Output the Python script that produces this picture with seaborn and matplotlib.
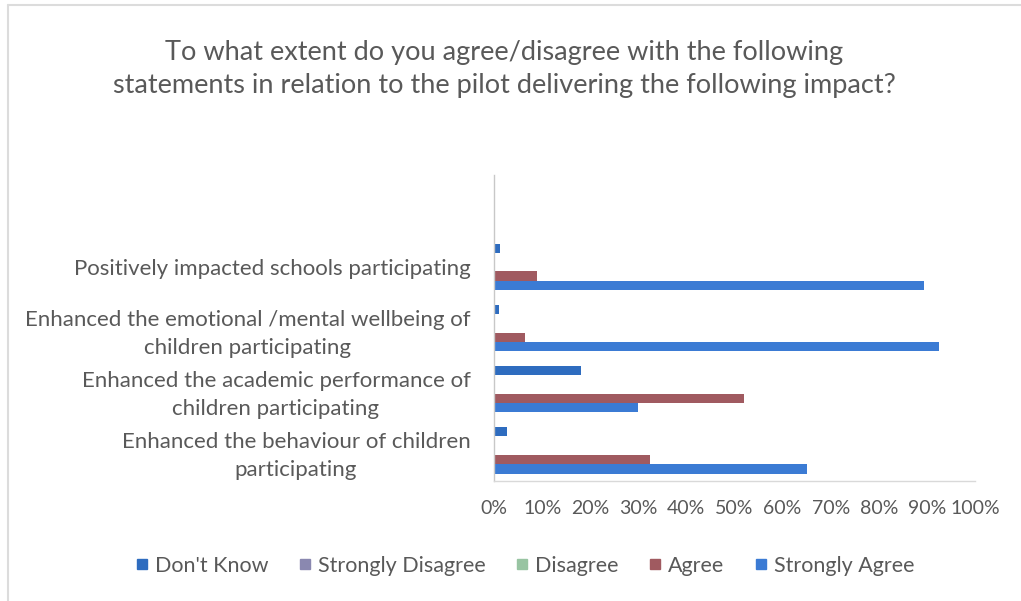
import matplotlib
matplotlib.use("Agg")
import matplotlib.pyplot as plt
from matplotlib.lines import Line2D
import seaborn as sns
import pandas as pd

# Survey statements (top to bottom) and response categories
statements = [
    "Positively impacted schools participating",
    "Enhanced the emotional /mental wellbeing of\nchildren participating",
    "Enhanced the academic performance of\nchildren participating",
    "Enhanced the behaviour of children\nparticipating",
]
responses = ["Don't Know", "Strongly Disagree", "Disagree", "Agree", "Strongly Agree"]

# Share of respondents (%) per statement
dont_know = [1.2, 1.0, 18.0, 2.6]
strongly_disagree = [0, 0, 0, 0]
disagree = [0, 0, 0, 0]
agree = [9.0, 6.5, 52.0, 32.5]
strongly_agree = [89.5, 92.5, 30.0, 65.0]

x_ticks = list(range(0, 101, 10))
x_tick_labels = [f"{t}%" for t in x_ticks]

colors = ["#2e6cbf", "#8a88b0", "#98c4a2", "#a05a60", "#3b7bd4"]

df = pd.DataFrame({
    "statement": statements * 5,
    "response": [r for r in responses for _ in statements],
    "value": dont_know + strongly_disagree + disagree + agree + strongly_agree,
})

sns.set_theme(style="white")
plt.rcParams["font.family"] = ["Lato", "DejaVu Sans"]
text_color = "#595959"

fig = plt.figure(figsize=(10.21, 6.01), dpi=100)
fig.patch.set_facecolor("white")
ax = fig.add_axes([494 / 1021, 1 - 481 / 601, (975 - 494) / 1021, (481 - 175) / 601])

sns.barplot(
    data=df, y="statement", x="value", hue="response",
    order=statements, hue_order=responses, palette=colors,
    orient="h", width=0.76, saturation=1, linewidth=0, ax=ax, legend=True,
)

ax.set_xlim(0, 100)
ax.set_ylim(3.5, -1.5)
ax.set_xticks(x_ticks)
ax.set_xticklabels(x_tick_labels)
ax.set_xlabel("")
ax.set_ylabel("")
ax.tick_params(axis="x", length=0, pad=14, labelsize=14, labelcolor=text_color)
ax.tick_params(axis="y", length=0, pad=17, labelsize=16, labelcolor=text_color)
for lbl in ax.get_yticklabels():
    lbl.set_multialignment("center")
    lbl.set_linespacing(1.5)

for side in ["top", "right"]:
    ax.spines[side].set_visible(False)
ax.spines["left"].set_color("#c8c8c8")
ax.spines["bottom"].set_color("#d9d9d9")
ax.spines["left"].set_linewidth(1.0)
ax.spines["bottom"].set_linewidth(1.0)
ax.grid(False)

# Legend below the plot with square markers
leg = ax.get_legend()
if leg is not None:
    leg.remove()
handles = [Line2D([], [], marker="s", linestyle="", markersize=7.5, color=c) for c in colors]
fig.legend(
    handles, responses, loc="center", bbox_to_anchor=(525 / 1021, 1 - 566 / 601),
    ncol=5, frameon=False, fontsize=15.5, labelcolor=text_color,
    handlelength=0.6, handletextpad=0.3, columnspacing=1.4,
)

fig.text(
    504 / 1021, 1 - 69 / 601,
    "To what extent do you agree/disagree with the following\n"
    "statements in relation to the pilot delivering the following impact?",
    ha="center", va="center", fontsize=19.5, color=text_color, linespacing=1.4,
)

# Chart frame edges
fig.add_artist(Line2D([8 / 1021, 1.0], [1 - 5 / 601, 1 - 5 / 601], transform=fig.transFigure,
                      color="#dcdcdc", linewidth=1.5))
fig.add_artist(Line2D([8 / 1021, 8 / 1021], [0.0, 1 - 5 / 601], transform=fig.transFigure,
                      color="#dcdcdc", linewidth=1.5))

fig.savefig("out.png", dpi=100, facecolor="white")
